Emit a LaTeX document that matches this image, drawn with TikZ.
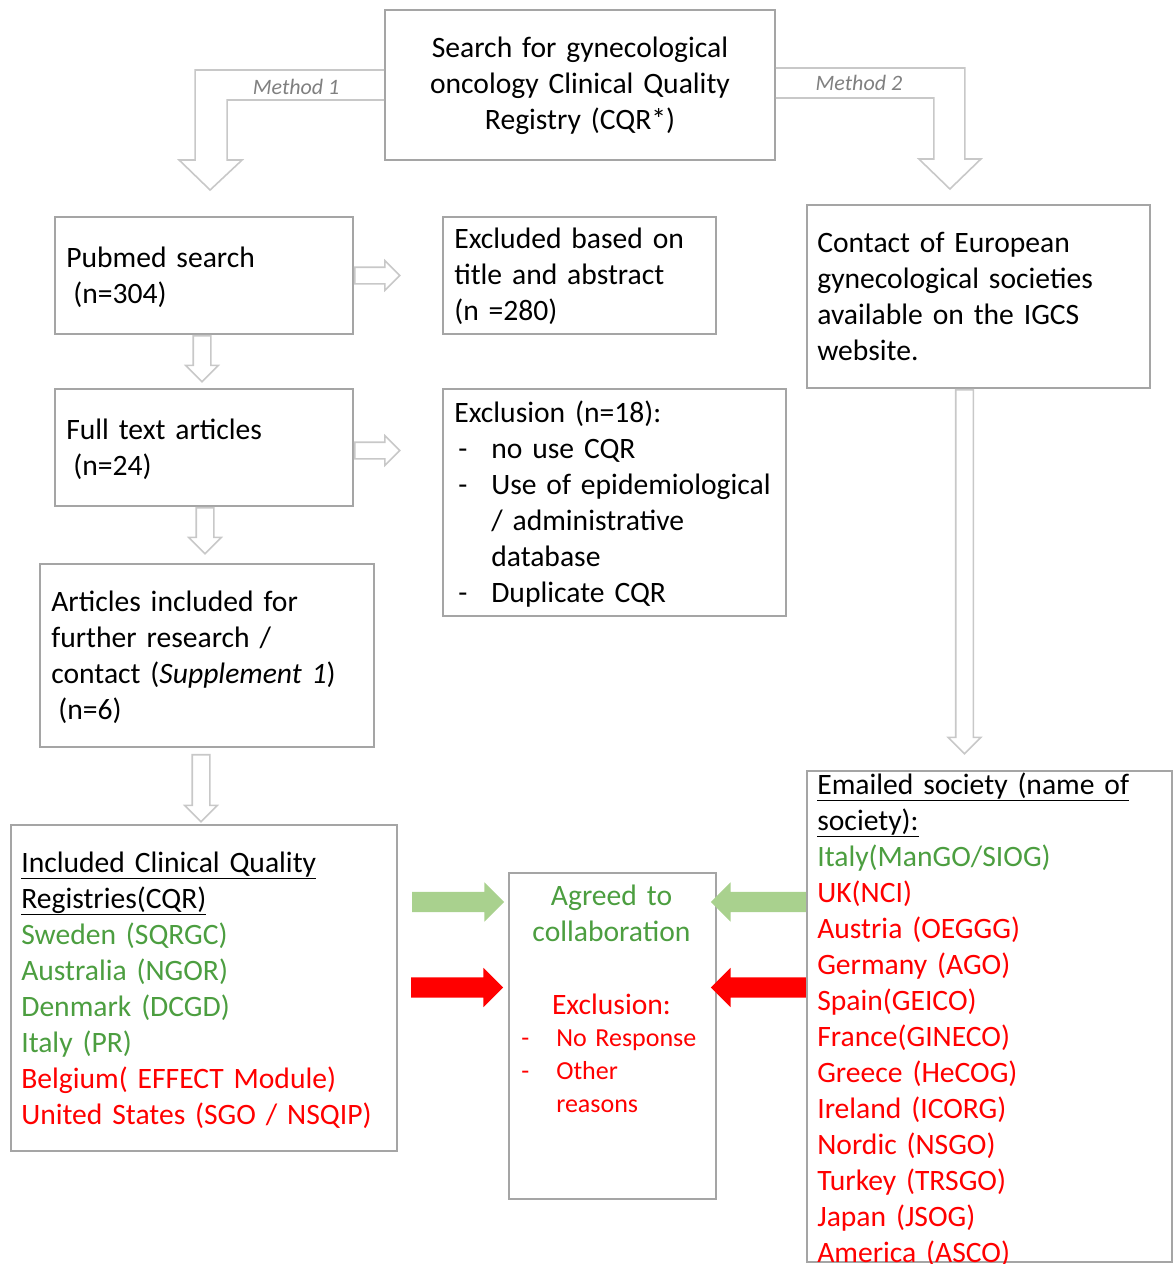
\documentclass[tikz,border=0pt]{standalone}
\usepackage{fontspec}
\setmainfont{Carlito}
\usetikzlibrary{shapes.arrows,calc}
\definecolor{boxgray}{RGB}{165,165,165}
\definecolor{arrowgray}{RGB}{200,200,200}
\definecolor{lblgray}{RGB}{128,128,128}
\definecolor{okgreen}{RGB}{76,158,64}
\definecolor{arrowgreen}{RGB}{169,209,142}
\definecolor{exred}{RGB}{255,0,0}

\begin{document}
\begin{tikzpicture}[x=1pt,y=-1pt,
  box node/.style={rectangle,draw=boxgray,line width=1.8pt,inner sep=0pt},
  text node/.style={inner sep=0pt,text width=400pt,align=left,anchor=base west,font=\fontsize{29.6}{36}\selectfont},
  mid node/.style={inner sep=0pt,text width=#1,align=center,anchor=base,font=\fontsize{29.6}{36}\selectfont},
  hollow arrow/.style={single arrow,draw=arrowgray,line width=1.6pt,inner xsep=0pt,inner ysep=8pt,single arrow head extend=7.5pt,anchor=tail},
  block arrow/.style={single arrow,draw=none,inner xsep=0pt,inner ysep=10pt,single arrow head extend=9.5pt,minimum height=92pt,anchor=tail},
  method label/.style={inner sep=0pt,font=\fontsize{22}{24}\selectfont\itshape,text=lblgray}]
  \useasboundingbox (0,0) rectangle (1174,1264);

  % boxes
  \node[box node,minimum width=390,minimum height=150] (search) at (580,85) {};
  \node[box node,minimum width=298,minimum height=117] (pub) at (204,275.5) {};
  \node[box node,minimum width=273,minimum height=117] (excl) at (579.5,275.5) {};
  \node[box node,minimum width=343,minimum height=183] (contact) at (978.5,296.5) {};
  \node[box node,minimum width=298,minimum height=117] (full) at (204,447.5) {};
  \node[box node,minimum width=343,minimum height=227] (exclu) at (614.5,502.5) {};
  \node[box node,minimum width=334,minimum height=183] (art) at (207,655.5) {};
  \node[box node,minimum width=386,minimum height=326] (incl) at (204,988) {};
  \node[box node,minimum width=207,minimum height=326] (agreed) at (612.5,1036) {};
  \node[box node,minimum width=365,minimum height=491] (emailed) at (989.5,1016.5) {};

  % texts
  \node[mid node=390] (searchtxt) at ($(search.north)+(0,48)$) {Search for gynecological\\oncology Clinical Quality\\Registry (CQR*)};
  \node[text node] (pubtxt) at ($(pub.north west)+(12,51)$) {Pubmed search\\\hspace*{7pt}(n=304)};
  \node[text node] (excltxt) at ($(excl.north west)+(12,32)$) {Excluded based on\\title and abstract\\(n =280)};
  \node[text node] (contacttxt) at ($(contact.north west)+(11,48)$) {Contact of European\\gynecological societies\\available on the IGCS\\website.};
  \node[text node] (fulltxt) at ($(full.north west)+(12,51)$) {Full text articles\\\hspace*{7pt}(n=24)};
  \node[text node] (exclutxt) at ($(exclu.north west)+(12,34)$) {Exclusion (n=18):\\
    \hspace*{4pt}\makebox[33pt][l]{-}no use CQR\\
    \hspace*{4pt}\makebox[33pt][l]{-}Use of epidemiological\\
    \hspace*{37pt}/ administrative\\
    \hspace*{37pt}database\\
    \hspace*{4pt}\makebox[33pt][l]{-}Duplicate CQR};
  \node[text node] (arttxt) at ($(art.north west)+(12,48)$) {Articles included for\\further research /\\contact (\textit{Supplement 1})\\\hspace*{7pt}(n=6)};
  \node[text node] (incltxt) at ($(incl.north west)+(11,48)$) {\underline{Included Clinical Quality}\\
    \underline{Registries(CQR)}\\
    \textcolor{okgreen}{Sweden (SQRGC)}\\
    \textcolor{okgreen}{Australia (NGOR)}\\
    \textcolor{okgreen}{Denmark (DCGD)}\\
    \textcolor{okgreen}{Italy (PR)}\\
    \textcolor{exred}{Belgium( EFFECT Module)}\\
    \textcolor{exred}{United States (SGO / NSQIP)}};
  \node[mid node=207,text=okgreen] (agreedtxt) at ($(agreed.north)+(-1,33)$) {Agreed to\\collaboration};
  \node[mid node=207,text=exred] (nottxt) at ($(agreed.north)+(-1,142)$) {Exclusion:};
  \node[text node,text=exred,font=\fontsize{26}{33}\selectfont] (reasontxt) at ($(agreed.north west)+(13,174)$) {\makebox[35pt][l]{-}No Response\\\makebox[35pt][l]{-}Other\\\hspace*{35pt}reasons};
  \node[text node] (mailtxt) at ($(emailed.north west)+(11,24)$) {\underline{Emailed society (name of}\\
    \underline{society):}\\
    \textcolor{okgreen}{Italy(ManGO/SIOG)}\\
    \textcolor{exred}{UK(NCI)}\\
    \textcolor{exred}{Austria (OEGGG)}\\
    \textcolor{exred}{Germany (AGO)}\\
    \textcolor{exred}{Spain(GEICO)}\\
    \textcolor{exred}{France(GINECO)}\\
    \textcolor{exred}{Greece (HeCOG)}\\
    \textcolor{exred}{Ireland (ICORG)}\\
    \textcolor{exred}{Nordic (NSGO)}\\
    \textcolor{exred}{Turkey (TRSGO)}\\
    \textcolor{exred}{Japan (JSOG)}\\
    \textcolor{exred}{America (ASCO)}};

  % method arrows
  \draw[arrowgray,line width=1.6pt] ($(search.west)+(0,-15)$) -- ++(-189,0) -- ++(0,90) -- ++(-16,0) -- ++(31,30) -- ++(32,-30) -- ++(-15,0) -- ++(0,-60) -- ++(157,0);
  \draw[arrowgray,line width=1.6pt] ($(search.east)+(0,-17)$) -- ++(189,0) -- ++(0,91) -- ++(16,0) -- ++(-31,30) -- ++(-31,-30) -- ++(15,0) -- ++(0,-61) -- ++(-158,0);
  \node[method label] (m1) at ($(search.west)+(-88,2)$) {Method 1};
  \node[method label] (m2) at ($(search.east)+(83,-2)$) {Method 2};

  % hollow arrows
  \node[hollow arrow,minimum height=45,inner ysep=7.5pt,single arrow head extend=6.5pt] (a1) at (pub.east) {};
  \node[hollow arrow,minimum height=45,inner ysep=7.5pt,single arrow head extend=6.5pt] (a2) at ($(full.east)+(0,3)$) {};
  \node[hollow arrow,minimum height=46,rotate=-90] (d1) at ($(pub.south)+(-2,0)$) {};
  \node[hollow arrow,minimum height=46,rotate=-90] (d2) at ($(full.south)+(1,0)$) {};
  \node[hollow arrow,minimum height=67,rotate=-90] (d3) at ($(art.south)+(-6,6)$) {};
  \node[hollow arrow,minimum height=364,rotate=-90] (d4) at ($(contact.south)+(-14,0)$) {};

  % coloured arrows
  \node[block arrow,fill=arrowgreen] (g1) at ($(incl.east)+(14,-86)$) {};
  \node[block arrow,fill=exred] (r1) at ($(incl.east)+(13,-0.5)$) {};
  \node[block arrow,fill=arrowgreen,minimum height=95,rotate=180] (g2) at ($(emailed.west)+(0,-114.5)$) {};
  \node[block arrow,fill=exred,minimum height=95,rotate=180] (r2) at ($(emailed.west)+(0,-29)$) {};
\end{tikzpicture}
\end{document}
